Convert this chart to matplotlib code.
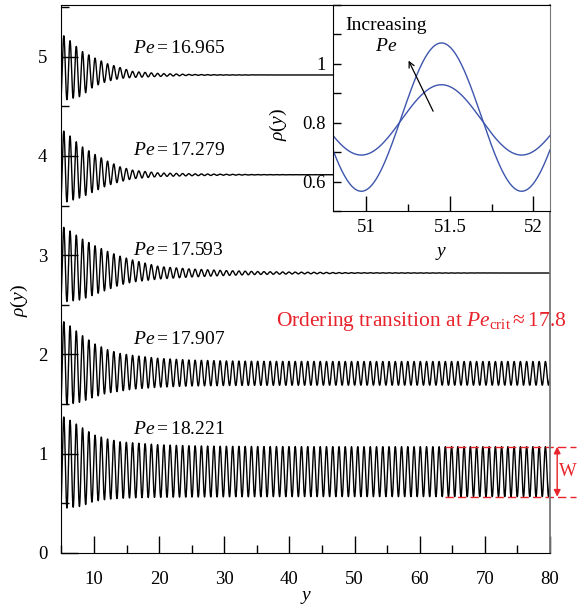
import numpy as np
import matplotlib
matplotlib.use('Agg')
import matplotlib.pyplot as plt
from matplotlib.ticker import MultipleLocator, FixedLocator, FixedFormatter

plt.rcParams['font.family'] = ['Liberation Serif', 'DejaVu Serif']
plt.rcParams['mathtext.fontset'] = 'custom'
plt.rcParams['mathtext.rm'] = 'Liberation Serif'
plt.rcParams['mathtext.it'] = 'Liberation Serif:italic'
plt.rcParams['mathtext.bf'] = 'Liberation Serif:bold'

# ---------------- data ----------------
pe_values = [16.965, 17.279, 17.593, 17.907, 18.221]
offsets = [4, 3, 2, 1, 0]
label_y = [5.08, 4.05, 3.05, 2.15, 1.24]

# envelope sample positions (y) and upper / lower envelopes of rho (without offset)
env_y = [5.0, 5.5, 8, 10, 12, 14, 16, 20, 25, 30, 35, 40, 50, 80]
upper_16965 = [1.21, 1.21, 1.06, 0.99, 0.93, 0.89, 0.85, 0.83, 0.820, 0.817, 0.816, 0.815, 0.815, 0.815]
lower_16965 = [0.56, 0.56, 0.60, 0.70, 0.75, 0.78, 0.79, 0.80, 0.811, 0.813, 0.814, 0.815, 0.815, 0.815]
upper_17279 = [1.25, 1.25, 1.10, 1.02, 0.95, 0.89, 0.855, 0.828, 0.820, 0.815, 0.812, 0.811, 0.810, 0.810]
lower_17279 = [0.53, 0.53, 0.58, 0.64, 0.70, 0.74, 0.770, 0.792, 0.800, 0.805, 0.808, 0.809, 0.810, 0.810]
upper_17593 = [1.28, 1.28, 1.17, 1.10, 1.04, 0.99, 0.95, 0.885, 0.86, 0.845, 0.835, 0.83, 0.823, 0.82]
lower_17593 = [0.53, 0.53, 0.55, 0.60, 0.65, 0.70, 0.73, 0.760, 0.78, 0.795, 0.805, 0.81, 0.817, 0.82]
upper_17907 = [1.33, 1.33, 1.20, 1.11, 1.05, 1.01, 0.99, 0.96, 0.943, 0.935, 0.931, 0.930, 0.929, 0.929]
lower_17907 = [0.49, 0.49, 0.52, 0.57, 0.61, 0.63, 0.65, 0.67, 0.682, 0.686, 0.688, 0.689, 0.690, 0.690]
upper_18221 = [1.37, 1.37, 1.27, 1.19, 1.15, 1.12, 1.11, 1.09, 1.08, 1.075, 1.073, 1.072, 1.071, 1.071]
lower_18221 = [0.45, 0.45, 0.47, 0.52, 0.54, 0.55, 0.555, 0.56, 0.563, 0.565, 0.566, 0.567, 0.567, 0.567]
uppers = [upper_16965, upper_17279, upper_17593, upper_17907, upper_18221]
lowers = [lower_16965, lower_17279, lower_17593, lower_17907, lower_18221]

period = 0.96       # layer spacing
peak_ref = 51.45    # position of a density peak (inset)

main_xticks = [10, 20, 30, 40, 50, 60, 70, 80]
main_yticks = [0, 1, 2, 3, 4, 5]
inset_xticks = [51, 51.5, 52]
inset_xticklabels = ['51', '51.5', '52']
inset_yticks = [0.6, 0.8, 1.0]
inset_yticklabels = ['0.6', '0.8', '1']

red = '#e8232b'
blue = '#3d55ad'


def profile(y, up, lo):
    up_i = np.interp(y, env_y, up)
    lo_i = np.interp(y, env_y, lo)
    c = 0.5 * (up_i + lo_i)
    a = 0.5 * (up_i - lo_i)
    return c + a * np.cos(2 * np.pi * (y - peak_ref) / period)


fig = plt.figure(figsize=(5.78, 6.08), dpi=100)
ax = fig.add_axes([0.1062, 0.0905, 0.8454, 0.9013])

y = np.linspace(5, 80, 40000)
for pe, off, up, lo, ly in zip(pe_values, offsets, uppers, lowers, label_y):
    ax.plot(y, profile(y, up, lo) + off, color='black', lw=1.0)
    ax.text(16.0, ly, r'$Pe = %s$' % f'{pe:.3f}', fontsize=14, ha='left', va='center')

ax.set_xlim(5, 80)
ax.set_ylim(0, 5.52)
ax.xaxis.set_major_locator(FixedLocator(main_xticks))
ax.xaxis.set_minor_locator(MultipleLocator(5))
ax.yaxis.set_major_locator(FixedLocator(main_yticks))
ax.yaxis.set_minor_locator(MultipleLocator(0.5))
ax.tick_params(which='both', direction='in', top=False, right=False, labelsize=13.5)
ax.tick_params(which='major', length=12, width=1)
ax.tick_params(which='minor', length=6, width=1)
ax.tick_params(axis='x', pad=13)
ax.tick_params(axis='y', pad=10)
ax.spines['right'].set_color('#777777')
ax.spines['right'].set_linewidth(1.3)
ax.set_xlabel(r'$y$', fontsize=14, labelpad=1)
ax.set_ylabel(r'$\rho(y)$', fontsize=14)
ax.yaxis.set_label_coords(-0.064, 0.46)

# ordering transition text
ax.text(60.2, 2.33, r'Ordering transition at $Pe_{\rm crit} \approx 17.8$', color=red,
        fontsize=15.5, ha='center', va='center', clip_on=False)

# W annotation on the Pe = 18.221 curve
w_top = upper_18221[-1]
w_bot = lower_18221[-1]
for yy in (w_top, w_bot):
    ax.plot([63.9, 84.0], [yy, yy], color=red, lw=1.0, ls=(0, (6, 3)), clip_on=False)
ax.annotate('', xy=(81.1, w_top), xytext=(81.1, w_bot),
            arrowprops=dict(arrowstyle='<|-|>', color=red, lw=1.0, mutation_scale=10,
                            shrinkA=0, shrinkB=0), annotation_clip=False)
ax.text(81.45, 0.5 * (w_top + w_bot), 'W', color=red, fontsize=13.5, ha='left', va='center',
        clip_on=False)

# ---------------- inset ----------------
ins = fig.add_axes([0.576, 0.653, 0.3756, 0.3388])
ins.set_facecolor('white')
yi = np.linspace(50.8, 52.1, 2000)
for up, lo in ((upper_18221, lower_18221), (upper_17907, lower_17907)):
    ins.plot(yi, profile(yi, up, lo), color=blue, lw=1.0)
ins.set_xlim(50.8, 52.1)
ins.set_ylim(0.5, 1.2)
ins.xaxis.set_major_locator(FixedLocator(inset_xticks))
ins.xaxis.set_major_formatter(FixedFormatter(inset_xticklabels))
ins.xaxis.set_minor_locator(MultipleLocator(0.25))
ins.yaxis.set_major_locator(FixedLocator(inset_yticks))
ins.yaxis.set_major_formatter(FixedFormatter(inset_yticklabels))
ins.yaxis.set_minor_locator(MultipleLocator(0.1))
ins.tick_params(which='both', direction='in', top=False, right=False, labelsize=13.5)
ins.tick_params(axis='x', which='major', length=11, width=1, pad=6)
ins.tick_params(axis='x', which='minor', length=5, width=1)
ins.tick_params(axis='y', which='both', length=6, width=1, pad=5)
ins.spines['right'].set_color('#777777')
ins.set_xlabel(r'$y$', fontsize=14, labelpad=6)
ins.set_ylabel(r'$\rho(y)$', fontsize=14)
ins.yaxis.set_label_coords(-0.203, 0.417)
ins.text(51.12, 1.095, 'Increasing\n' + r'$Pe$', fontsize=14, ha='center', va='center',
         linespacing=1.3)
ins.annotate('', xy=(51.253, 1.011), xytext=(51.40, 0.839),
             arrowprops=dict(arrowstyle='->', color='black', lw=0.9, mutation_scale=10,
                             shrinkA=0, shrinkB=0))

fig.savefig('out.png', dpi=100)
